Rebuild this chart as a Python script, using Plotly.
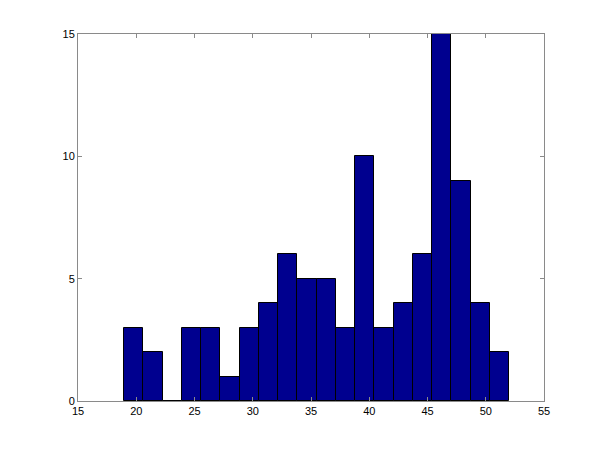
import plotly.graph_objects as go

counts = [3, 2, 0, 3, 3, 1, 3, 4, 6, 5, 5, 3, 10, 3, 4, 6, 15, 9, 4, 2]
bin_start = 18.95
bin_width = 1.6525
x_ticks = [15, 20, 25, 30, 35, 40, 45, 50, 55]
y_ticks = [0, 5, 10, 15]

centers = [bin_start + bin_width * (i + 0.5) for i in range(len(counts))]

fig = go.Figure(go.Bar(
    x=centers, y=counts, width=[bin_width] * len(counts),
    marker=dict(color="#00008F", line=dict(color="black", width=1)),
))

axis_common = dict(
    showgrid=False, zeroline=False, showline=True, linecolor="#8a8a8a", linewidth=1,
    mirror="ticks", ticks="inside", ticklen=4, tickcolor="#8a8a8a",
    tickfont=dict(family="Liberation Sans, Arial", size=11, color="black"),
)
fig.update_layout(
    width=601, height=450,
    margin=dict(l=70, r=65, t=26, b=57),
    paper_bgcolor="white", plot_bgcolor="white",
    showlegend=False, bargap=0,
    xaxis=dict(range=[15, 55], tickvals=x_ticks, **axis_common),
    yaxis=dict(range=[0, 15], tickvals=y_ticks, **axis_common),
)
fig.write_html("out.html")
